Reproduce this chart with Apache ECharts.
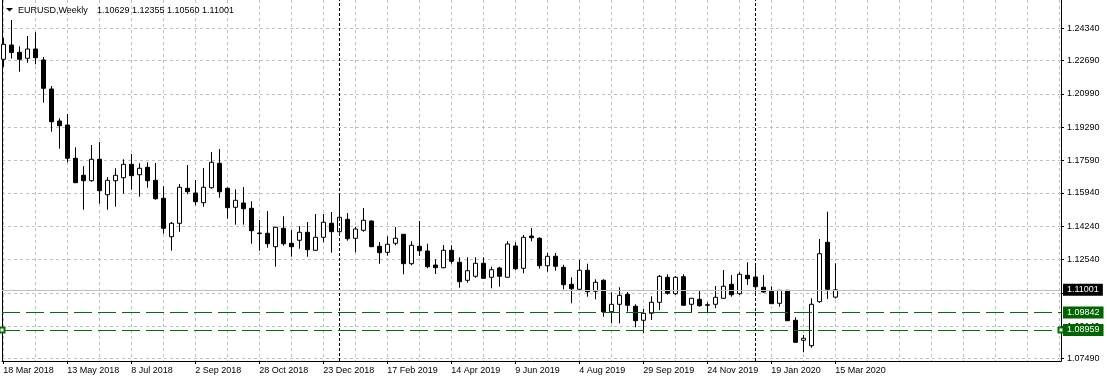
<!DOCTYPE html>
<html>
<head>
<meta charset="utf-8">
<script src="https://cdn.jsdelivr.net/npm/echarts@6/dist/echarts.min.js"></script>
<style>
html,body{margin:0;padding:0;background:#fff;}
#chart{width:1107px;height:382px;}
</style>
</head>
<body>
<div id="chart"></div>
<script>
// ---- data ----
const symbolName = 'EURUSD,Weekly';
const firstWeekUTC = Date.UTC(2018, 2, 18); // 18 Mar 2018, one bar per week

const opens = [
1.22759,1.23488,1.23116,1.22810,1.23284,1.22723,1.21244,1.19612,1.19408,1.17710,
1.16843,1.16567,1.17659,1.15853,1.16567,1.16720,1.17404,1.16873,1.17251,1.16588,
1.15670,1.13711,1.14395,1.16180,1.15940,1.15445,1.16210,1.17455,1.16180,1.15211,
1.15430,1.15160,1.13869,1.13885,1.13201,1.14140,1.13375,1.13528,1.13936,1.13018,
1.13681,1.14395,1.13966,1.14599,1.13630,1.14038,1.14512,1.13222,1.12916,1.13375,
1.13834,1.12334,1.13222,1.12982,1.12268,1.12130,1.13018,1.12406,1.11488,1.11692,
1.12355,1.11641,1.12115,1.11641,1.13237,1.12100,1.13747,1.13630,1.12232,1.12712,
1.12151,1.11284,1.11029,1.11998,1.10927,1.11488,1.09886,1.10264,1.10774,1.10162,
1.09448,1.09805,1.10366,1.11641,1.10804,1.11671,1.10264,1.10519,1.10213,1.10264,
1.10570,1.11284,1.10804,1.11743,1.11656,1.11131,1.10927,1.10315,1.10978,1.09448,
1.08428,1.08152,1.10396,1.13426,1.10629
];
const highs = [
1.23845,1.24763,1.23422,1.23947,1.24136,1.22876,1.21397,1.19750,1.19969,1.18271,
1.17302,1.18388,1.18541,1.16756,1.17200,1.17659,1.17929,1.17455,1.17506,1.17470,
1.16282,1.14461,1.16399,1.17368,1.16603,1.17215,1.18031,1.18184,1.16231,1.16129,
1.16246,1.15517,1.14563,1.15022,1.14221,1.14752,1.14053,1.14257,1.14461,1.14869,
1.14869,1.14971,1.15889,1.14920,1.14221,1.15175,1.14538,1.13441,1.13732,1.14206,
1.13849,1.13477,1.14512,1.13354,1.12559,1.13288,1.13273,1.12661,1.12661,1.12661,
1.12661,1.12181,1.12181,1.13477,1.13426,1.13798,1.14155,1.13681,1.12880,1.12880,
1.12283,1.11641,1.12523,1.12334,1.11539,1.11539,1.10876,1.11131,1.10891,1.10264,
1.10024,1.10672,1.11758,1.11794,1.11707,1.11794,1.10585,1.10978,1.10366,1.11197,
1.12013,1.11758,1.11896,1.12406,1.12202,1.11758,1.11182,1.10993,1.10993,1.09601,
1.08698,1.10570,1.13594,1.14986,1.12355
];
const lows = [
1.22366,1.22800,1.22126,1.22585,1.22504,1.20545,1.19066,1.18199,1.17506,1.16450,
1.15088,1.16516,1.15394,1.15088,1.15241,1.15904,1.16108,1.15751,1.16210,1.15598,
1.13864,1.12997,1.13966,1.15874,1.15313,1.15241,1.16159,1.15700,1.14629,1.14323,
1.14323,1.13354,1.12997,1.13150,1.12181,1.13252,1.12691,1.13099,1.12691,1.12997,
1.13426,1.12895,1.13915,1.13507,1.12916,1.13966,1.13186,1.12334,1.12742,1.13273,
1.11794,1.12253,1.12727,1.12100,1.11809,1.12100,1.12334,1.11110,1.11365,1.11620,
1.11569,1.11080,1.11161,1.11620,1.12013,1.11845,1.13477,1.12079,1.11926,1.11977,
1.11029,1.10315,1.11008,1.10651,1.10519,1.09631,1.09295,1.09295,1.09886,1.09091,
1.08785,1.09463,1.09973,1.10753,1.10738,1.10192,1.09856,1.10141,1.09856,1.10060,
1.10549,1.10651,1.10738,1.11248,1.10855,1.10855,1.10279,1.10141,1.09412,1.08305,
1.07816,1.08050,1.10345,1.10534,1.10560
];
const closes = [
1.23524,1.23106,1.22759,1.23284,1.22840,1.21280,1.19576,1.19372,1.17710,1.16465,
1.16567,1.17659,1.16057,1.16588,1.16843,1.17404,1.16822,1.17200,1.16567,1.15649,
1.14140,1.14395,1.16231,1.16006,1.15496,1.16231,1.17506,1.16006,1.15190,1.15568,
1.15139,1.14017,1.13900,1.13354,1.14191,1.13354,1.13201,1.13936,1.13048,1.13681,
1.14446,1.13966,1.14701,1.13609,1.14104,1.14548,1.13201,1.12895,1.13324,1.13630,
1.12334,1.13273,1.12997,1.12181,1.12130,1.13018,1.12457,1.11416,1.11977,1.12355,
1.11590,1.12028,1.11692,1.13339,1.12079,1.13681,1.13660,1.12232,1.12712,1.12202,
1.11263,1.11059,1.11998,1.10906,1.11386,1.09886,1.10264,1.10723,1.10213,1.09427,
1.09805,1.10366,1.11692,1.10825,1.11641,1.10213,1.10570,1.10192,1.10243,1.10621,
1.11182,1.10753,1.11794,1.11569,1.11161,1.10891,1.10294,1.10978,1.09427,1.08326,
1.08530,1.10264,1.12844,1.11029,1.11001
];

const xTickLabels = ['18 Mar 2018','13 May 2018','8 Jul 2018','2 Sep 2018','28 Oct 2018',
  '23 Dec 2018','17 Feb 2019','14 Apr 2019','9 Jun 2019','4 Aug 2019','29 Sep 2019',
  '24 Nov 2019','19 Jan 2020','15 Mar 2020'];
const yTickValues = [1.07490,1.09140,1.10840,1.12540,1.14240,1.15940,1.17590,1.19290,1.20990,1.22690,1.24340];
const bidPrice = 1.11001;
const levelPrices = [1.09842, 1.08959];

// ---- layout constants ----
const BARS_PER_LABEL = 8;
const BARS_PER_GRID = 4;
const TOTAL_SLOTS = 132;            // empty chart-shift space on the right
const X_MIN = -0.1625, X_MAX = 132.2125;
const Y_MIN = 1.07372, Y_MAX = 1.25783;
const FONT = '"Liberation Sans", Arial, sans-serif';

// year separators: first bar whose date is in a new year
const weekYears = opens.map((_, i) => new Date(firstWeekUTC + i * 7 * 86400000).getUTCFullYear());
const separators = [];
weekYears.forEach((y, i) => { if (i > 0 && y !== weekYears[i - 1]) separators.push(i); });

const labelIdx = xTickLabels.map((_, i) => i * BARS_PER_LABEL);
const gridIdx = [];
for (let i = 0; i <= TOTAL_SLOTS; i += BARS_PER_GRID) gridIdx.push(i);

const candleData = opens.map((o, i) => [i, o, closes[i], lows[i], highs[i]]);
const last = opens.length - 1;
const headerOHLC = [opens[last], highs[last], lows[last], closes[last]].map(v => v.toFixed(5)).join(' ');

function priceLine(name, price, color, lineType, tagBg, symbols, z) {
  return {
    name: name, type: 'line', xAxisIndex: 0, yAxisIndex: 0, data: [], z: z,
    markLine: {
      silent: true, symbol: symbols, symbolSize: 5, animation: false, precision: 5,
      lineStyle: {color: color, type: lineType, width: 1},
      label: {
        show: true, position: 'end', distance: 2,
        formatter: p => Number(p.value).toFixed(5),
        color: '#fff', backgroundColor: tagBg, padding: [2, 4, 1, 4],
        fontSize: 9, fontFamily: FONT
      },
      data: [{yAxis: price}]
    }
  };
}

const chart = echarts.init(document.getElementById('chart'), null, {renderer: 'canvas'});
chart.setOption({
  animation: false,
  backgroundColor: '#ffffff',
  grid: {left: 2, right: 46, top: 0, bottom: 21, containLabel: false},
  xAxis: [
    {
      type: 'value', min: X_MIN, max: X_MAX, position: 'bottom',
      axisLine: {show: false},
      axisTick: {show: false, customValues: gridIdx},
      axisLabel: {show: false, customValues: gridIdx},
      splitLine: {show: true, lineStyle: {color: '#c0c0c0', type: [3, 3], width: 1}}
    },
    {
      type: 'value', min: X_MIN, max: X_MAX, position: 'bottom',
      axisLine: {show: true, onZero: false, lineStyle: {color: '#000', width: 1}},
      axisTick: {show: true, length: 3, customValues: labelIdx, lineStyle: {color: '#000'}},
      axisLabel: {
        show: true, customValues: labelIdx, align: 'left', margin: 5,
        fontSize: 9, fontFamily: FONT, color: '#000',
        formatter: v => xTickLabels[Math.round(v / BARS_PER_LABEL)] || ''
      },
      splitLine: {show: false}
    }
  ],
  yAxis: [
    {
      type: 'value', min: Y_MIN, max: Y_MAX, position: 'right', scale: true,
      axisLine: {show: true, onZero: false, lineStyle: {color: '#000', width: 1}},
      axisTick: {show: true, length: 3, customValues: yTickValues, lineStyle: {color: '#000'}},
      axisLabel: {
        show: true, customValues: yTickValues, margin: 6,
        fontSize: 9, fontFamily: FONT, color: '#000',
        formatter: v => v.toFixed(5)
      },
      splitLine: {show: true, lineStyle: {color: '#c0c0c0', type: [3, 3], width: 1}}
    },
    {
      type: 'value', min: Y_MIN, max: Y_MAX, position: 'left', scale: true,
      axisLine: {show: true, onZero: false, lineStyle: {color: '#000', width: 1}},
      axisTick: {show: false}, axisLabel: {show: false}, splitLine: {show: false}
    }
  ],
  series: [
    {
      name: 'separators', type: 'line', xAxisIndex: 0, yAxisIndex: 0, data: [], z: 1,
      markLine: {
        silent: true, symbol: 'none', animation: false,
        label: {show: false},
        lineStyle: {color: '#000', type: [3, 2], width: 1},
        data: separators.map(i => ({xAxis: i}))
      }
    },
    {
      name: symbolName, type: 'candlestick', xAxisIndex: 0, yAxisIndex: 0, z: 3,
      barWidth: 4, clip: true,
      data: candleData,
      itemStyle: {
        color: '#ffffff', color0: '#000000',
        borderColor: '#000000', borderColor0: '#000000', borderColorDoji: '#000000',
        borderWidth: 1
      }
    },
    priceLine('bid', bidPrice, '#c0c0c0', 'solid', '#000000', 'none', 4),
    priceLine('level1', levelPrices[0], '#007000', [18, 6], '#006400', 'none', 5),
    priceLine('level2', levelPrices[1], '#007000', [18, 6], '#006400', ['emptyRect', 'emptyRect'], 5)
  ],
  graphic: [
    {type: 'polygon', shape: {points: [[6, 8], [13, 8], [9.5, 11.5]]}, style: {fill: '#000'}, z: 10},
    {type: 'text', x: 18, y: 6, style: {text: symbolName, font: '9px ' + FONT, fill: '#000'}, z: 10},
    {type: 'text', x: 97, y: 6, style: {text: headerOHLC, font: '9px ' + FONT, fill: '#000'}, z: 10}
  ]
});
</script>
</body>
</html>
